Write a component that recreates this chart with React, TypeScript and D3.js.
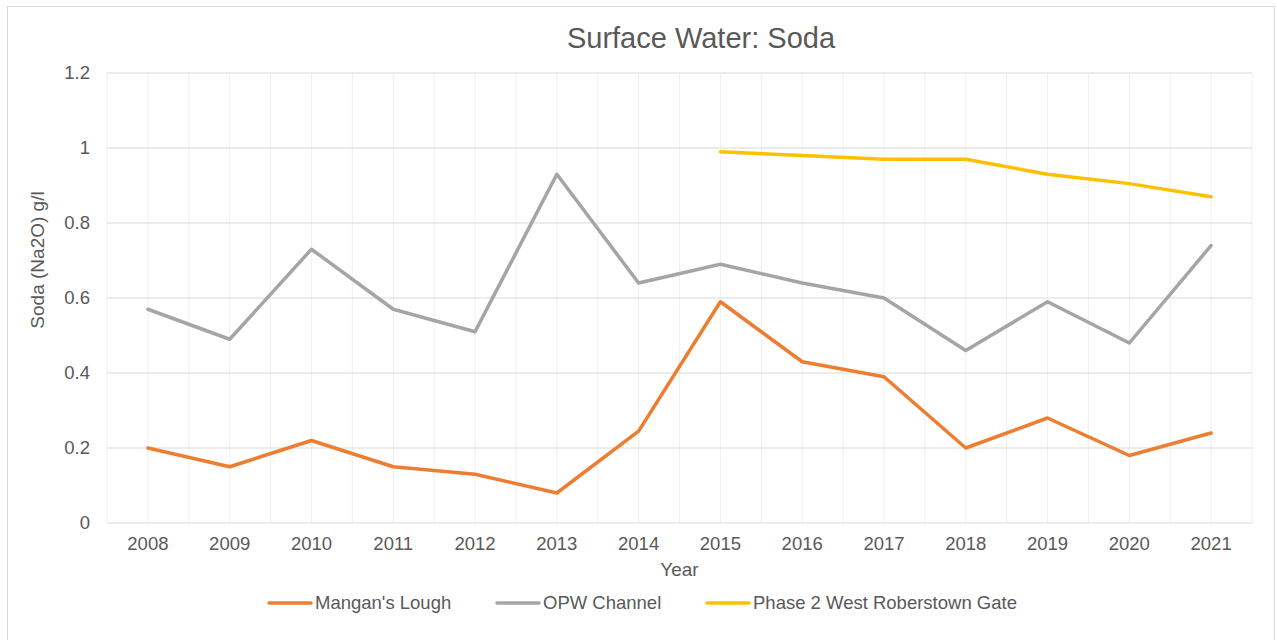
import React, { useEffect, useRef } from "react";
import * as d3 from "d3";

const years = ["2008", "2009", "2010", "2011", "2012", "2013", "2014", "2015", "2016", "2017", "2018", "2019", "2020", "2021"];
const mangansLough = [0.2, 0.15, 0.22, 0.15, 0.13, 0.08, 0.245, 0.59, 0.43, 0.39, 0.2, 0.28, 0.18, 0.24];
const opwChannel = [0.57, 0.49, 0.73, 0.57, 0.51, 0.93, 0.64, 0.69, 0.64, 0.6, 0.46, 0.59, 0.48, 0.74];
const phase2Gate = [null, null, null, null, null, null, null, 0.99, 0.98, 0.97, 0.97, 0.93, 0.905, 0.87];
const yTicks = [0, 0.2, 0.4, 0.6, 0.8, 1, 1.2];

const series = [
  { name: "Mangan's Lough", values: mangansLough, color: "#ED7D31" },
  { name: "OPW Channel", values: opwChannel, color: "#A5A5A5" },
  { name: "Phase 2 West Roberstown Gate", values: phase2Gate, color: "#FFC000" },
];

const W = 1277;
const H = 640;
const font = "'Liberation Sans', Arial, sans-serif";
const textColor = "#595959";

export default function App() {
  const ref = useRef<SVGSVGElement>(null);

  useEffect(() => {
    const svg = d3.select(ref.current);
    svg.selectAll("*").remove();

    const left = 107, right = 1252, top = 73, bottom = 523;
    const x = d3.scaleBand().domain(years).range([left, right]);
    const y = d3.scaleLinear().domain([0, 1.2]).range([bottom, top]);

    svg.append("rect").attr("x", 7.5).attr("y", 6.5).attr("width", 1267).attr("height", 640)
      .attr("fill", "#fff").attr("stroke", "#d9d9d9");

    // vertical gridlines at band edges and centers
    const vx: number[] = [];
    years.forEach((yr) => {
      vx.push(x(yr)!);
      vx.push(x(yr)! + x.bandwidth() / 2);
    });
    vx.push(right);
    svg.append("g").selectAll("line").data(vx).join("line")
      .attr("x1", (d) => d).attr("x2", (d) => d).attr("y1", top).attr("y2", bottom)
      .attr("stroke", "#f0f0f0").attr("stroke-width", 1);

    svg.append("g").selectAll("line").data(yTicks).join("line")
      .attr("x1", left).attr("x2", right).attr("y1", (d) => y(d)).attr("y2", (d) => y(d))
      .attr("stroke", "#d9d9d9").attr("stroke-width", 1.2);

    svg.append("g").selectAll("text").data(yTicks).join("text")
      .attr("x", 90).attr("y", (d) => y(d)).attr("dy", "0.35em").attr("text-anchor", "end")
      .attr("font-family", font).attr("font-size", 18.5).attr("fill", textColor)
      .text((d) => String(d));

    svg.append("g").selectAll("text").data(years).join("text")
      .attr("x", (d) => x(d)! + x.bandwidth() / 2).attr("y", 550).attr("text-anchor", "middle")
      .attr("font-family", font).attr("font-size", 18.5).attr("fill", textColor)
      .text((d) => d);

    svg.append("text").attr("x", (left + right) / 2).attr("y", 576).attr("text-anchor", "middle")
      .attr("font-family", font).attr("font-size", 19).attr("fill", textColor).text("Year");

    svg.append("text").attr("transform", "translate(44,260) rotate(-90)")
      .attr("text-anchor", "middle").attr("font-family", font).attr("font-size", 19)
      .attr("fill", textColor).text("Soda (Na2O) g/l");

    svg.append("text").attr("x", 701).attr("y", 48).attr("text-anchor", "middle")
      .attr("font-family", font).attr("font-size", 29).attr("fill", textColor)
      .text("Surface Water: Soda");

    const line = d3.line<number | null>()
      .defined((d) => d !== null)
      .x((_, i) => x(years[i])! + x.bandwidth() / 2)
      .y((d) => y(d as number));

    series.forEach((s) => {
      svg.append("path").datum(s.values).attr("d", line).attr("fill", "none")
        .attr("stroke", s.color).attr("stroke-width", 3.5)
        .attr("stroke-linejoin", "round").attr("stroke-linecap", "round");
    });

    const legendX = [269, 497, 707];
    const lg = svg.append("g");
    series.forEach((s, i) => {
      lg.append("line").attr("x1", legendX[i]).attr("x2", legendX[i] + 42).attr("y1", 603).attr("y2", 603)
        .attr("stroke", s.color).attr("stroke-width", 3.5).attr("stroke-linecap", "round");
      lg.append("text").attr("x", legendX[i] + 46).attr("y", 603).attr("dy", "0.35em")
        .attr("font-family", font).attr("font-size", 18.5).attr("fill", textColor).text(s.name);
    });
  }, []);

  return (
    <svg ref={ref} width={W} height={H} style={{ position: "absolute", left: 0, top: 0 }} />
  );
}
